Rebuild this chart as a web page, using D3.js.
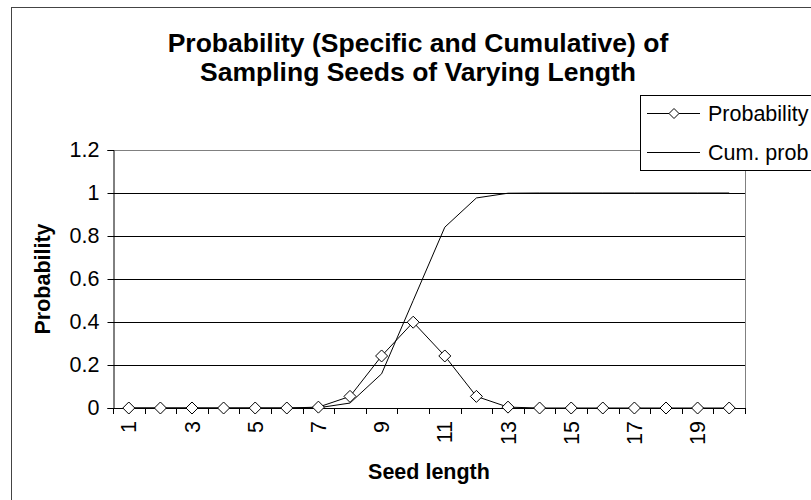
<!DOCTYPE html>
<html>
<head>
<meta charset="utf-8">
<script src="https://cdn.jsdelivr.net/npm/d3@7"></script>
<style>
  body { margin: 0; background: #fff; }
  text { font-family: "Liberation Sans", Arial, sans-serif; fill: #000; }
</style>
</head>
<body>
<svg id="plot" width="811" height="500"></svg>
<script>
// data
var seedLength = [1,2,3,4,5,6,7,8,9,10,11,12,13,14,15,16,17,18,19,20];
var probability = [0,0,0,0,0,0,0.004,0.054,0.242,0.399,0.242,0.054,0.004,0,0,0,0,0,0,0];
var cumProb = [0,0,0,0,0,0,0.001,0.023,0.159,0.5,0.841,0.977,0.999,1,1,1,1,1,1,1];
var yTicks = [0,0.2,0.4,0.6,0.8,1,1.2];
var xLabels = [1,3,5,7,9,11,13,15,17,19];
var titleLines = ["Probability (Specific and Cumulative) of", "Sampling Seeds of Varying Length"];
var seriesNames = ["Probability", "Cum. prob"];

var svg = d3.select('#plot');

// plot area bounds
var plot = {left: 113, right: 745, top: 150, bottom: 408};

var x = d3.scaleBand().domain(seedLength).range([plot.left, plot.right]).padding(0);
var y = d3.scaleLinear().domain([0, 1.2]).range([plot.bottom, plot.top]);

//chart area frame
svg.append('rect')
    .attr('x', 11.5)
    .attr('y', 7.5)
    .attr('width', 830)
    .attr('height', 520)
    .style('fill', 'none')
    .style('stroke', '#444');

//title
svg.append('g').selectAll('text')
    .data(titleLines)
    .enter()
    .append('text')
    .attr('x', 418)
    .attr('y', function(d, i) { return 52 + i * 29; })
    .attr('text-anchor', 'middle')
    .style('font-size', '26.5px')
    .style('font-weight', 'bold')
    .text(function(d) { return d; });

//gridlines
svg.append('g').selectAll('line')
    .data(yTicks.slice(1, -1))
    .enter()
    .append('line')
    .attr('x1', plot.left)
    .attr('x2', plot.right)
    .attr('y1', function(d) { return Math.round(y(d)) + 0.5; })
    .attr('y2', function(d) { return Math.round(y(d)) + 0.5; })
    .style('stroke', '#000');

//plot area border (top and right)
svg.append('path')
    .attr('d', 'M' + plot.left + ',' + (plot.top + 0.5) + 'H' + (plot.right + 0.5) + 'V' + plot.bottom)
    .style('fill', 'none')
    .style('stroke', '#808080');

// y axis
var yAxis = svg.append('g')
    .attr('transform', 'translate(' + (plot.left + 0.5) + ',0)')
    .call(d3.axisLeft(y).tickValues(yTicks).tickFormat(d3.format('~g')).tickSize(6).tickPadding(8));
yAxis.select('.domain').style('stroke', '#000');
yAxis.selectAll('.tick line').style('stroke', '#000');
yAxis.selectAll('text')
    .style('font-size', '21.5px')
    .style('font-family', '"Liberation Sans", Arial, sans-serif');

// x axis line
svg.append('line')
    .attr('x1', plot.left)
    .attr('x2', plot.right + 1)
    .attr('y1', plot.bottom + 0.5)
    .attr('y2', plot.bottom + 0.5)
    .style('stroke', '#000');

// x tick marks sit between categories
var bounds = seedLength.map(function(d) { return x(d); }).concat([plot.right]);
svg.append('g').selectAll('line')
    .data(bounds)
    .enter()
    .append('line')
    .attr('x1', function(d) { return Math.round(d) + 0.5; })
    .attr('x2', function(d) { return Math.round(d) + 0.5; })
    .attr('y1', plot.bottom)
    .attr('y2', plot.bottom + 6)
    .style('stroke', '#000');

// x labels, rotated
svg.append('g').selectAll('text')
    .data(xLabels)
    .enter()
    .append('text')
    .attr('transform', function(d) {
        return 'translate(' + (x(d) + x.bandwidth() / 2) + ',' + (plot.bottom + 13) + ') rotate(-90)';
    })
    .attr('dy', '0.35em')
    .attr('text-anchor', 'end')
    .style('font-size', '21.5px')
    .text(function(d) { return d; });

// axis titles
svg.append('text')
    .attr('x', (plot.left + plot.right) / 2)
    .attr('y', 479)
    .attr('text-anchor', 'middle')
    .style('font-size', '21.5px')
    .style('font-weight', 'bold')
    .text('Seed length');

svg.append('text')
    .attr('transform', 'translate(50,' + (plot.top + plot.bottom) / 2 + ') rotate(-90)')
    .attr('text-anchor', 'middle')
    .style('font-size', '21.5px')
    .style('font-weight', 'bold')
    .text('Probability');

// series lines
var cx = function(d, i) { return x(seedLength[i]) + x.bandwidth() / 2; };
var line = d3.line()
    .x(cx)
    .y(function(d) { return y(d); });

svg.append('path')
    .datum(cumProb)
    .attr('d', line)
    .style('fill', 'none')
    .style('stroke', '#000')
    .style('stroke-width', 1);

svg.append('path')
    .datum(probability)
    .attr('d', line)
    .style('fill', 'none')
    .style('stroke', '#000')
    .style('stroke-width', 1);

// diamond markers
var diamond = 'M0,-6L6,0L0,6L-6,0Z';
svg.append('g').selectAll('path')
    .data(probability)
    .enter()
    .append('path')
    .attr('d', diamond)
    .attr('transform', function(d, i) { return 'translate(' + cx(d, i) + ',' + y(d) + ')'; })
    .style('fill', '#fff')
    .style('stroke', '#000');

// legend
var legend = svg.append('g');
legend.append('rect')
    .attr('x', 640.5)
    .attr('y', 95.5)
    .attr('width', 200)
    .attr('height', 75)
    .style('fill', '#fff')
    .style('stroke', '#000');
var rows = legend.selectAll('.row')
    .data(seriesNames)
    .enter()
    .append('g')
    .attr('class', 'row')
    .attr('transform', function(d, i) { return 'translate(0,' + (113 + i * 39) + ')'; });
rows.append('line')
    .attr('x1', 647)
    .attr('x2', 700)
    .attr('y1', 0.5)
    .attr('y2', 0.5)
    .style('stroke', '#000');
rows.filter(function(d, i) { return i === 0; })
    .append('path')
    .attr('d', 'M0,-5L5,0L0,5L-5,0Z')
    .attr('transform', 'translate(674,0.5)')
    .style('fill', '#fff')
    .style('stroke', '#000');
rows.append('text')
    .attr('x', 708)
    .attr('dy', '0.35em')
    .style('font-size', '21.5px')
    .text(function(d) { return d; });
</script>
</body>
</html>
